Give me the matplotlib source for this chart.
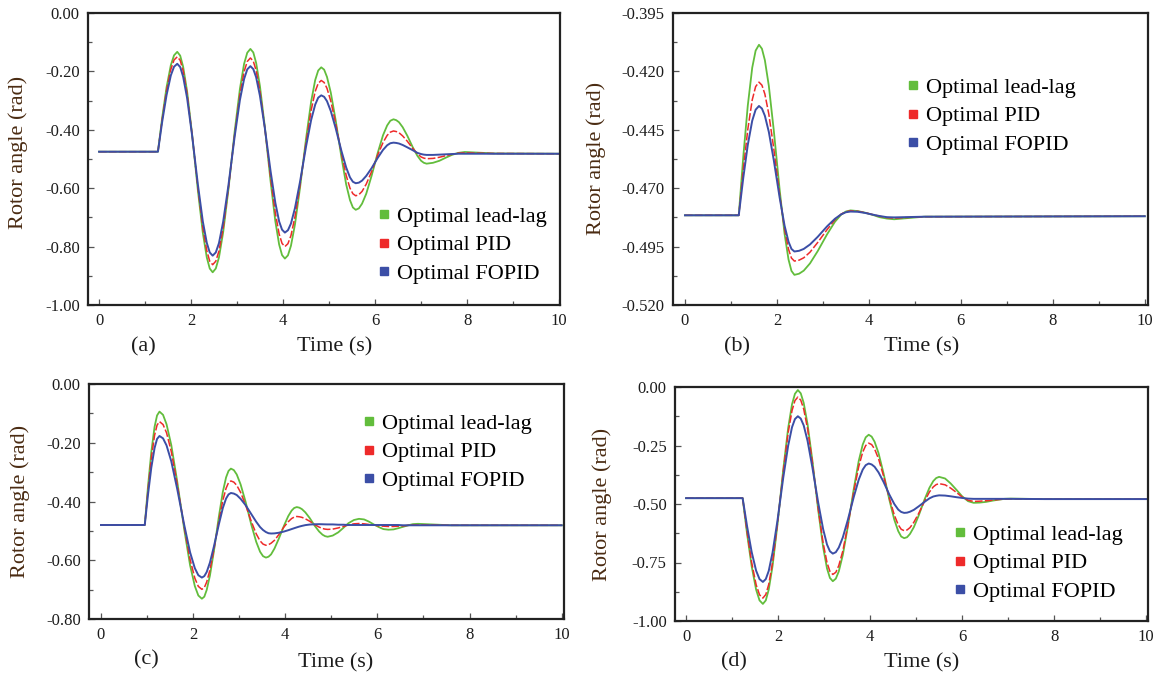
import matplotlib
matplotlib.use("Agg")
import matplotlib.pyplot as plt
from matplotlib.lines import Line2D

plt.rcParams['font.family'] = ['Liberation Serif', 'DejaVu Serif']
plt.rcParams['axes.unicode_minus'] = False

W, H = 1157, 679

labels = ["Optimal lead-lag", "Optimal PID", "Optimal FOPID"]
colors = ["#62bd3c", "#ee2a2a", "#3b4ea6"]
xticks = [0, 2, 4, 6, 8, 10]
xminor = [1, 3, 5, 7, 9]

# ---- panel (a)
time_a = [0, 1.28, 1.373, 1.467, 1.56, 1.63, 1.70,
          1.764, 1.828, 1.914, 2.021, 2.149, 2.256, 2.342, 2.406, 2.47,
          2.538, 2.607, 2.698, 2.812, 2.948, 3.062, 3.153, 3.222, 3.29,
          3.353, 3.415, 3.498, 3.603, 3.728, 3.832, 3.915, 3.978, 4.04,
          4.106, 4.172, 4.259, 4.369, 4.501, 4.611, 4.698, 4.764, 4.83,
          4.893, 4.955, 5.038, 5.143, 5.268, 5.372, 5.455, 5.518, 5.58,
          5.648, 5.717, 5.808, 5.922, 6.058, 6.172, 6.263, 6.332, 6.40,
          6.46, 6.52, 6.60, 6.70, 6.82, 6.92, 7.00, 7.06, 7.12,
          7.26, 7.40, 7.53, 7.67, 7.81, 7.95,
          8.6, 10.0]
leadlag_a = [-0.475, -0.475, -0.358, -0.255, -0.179, -0.145, -0.133,
             -0.146, -0.184, -0.268, -0.413, -0.608, -0.753, -0.837, -0.875, -0.888,
             -0.875, -0.837, -0.751, -0.605, -0.406, -0.260, -0.174, -0.136, -0.123,
             -0.135, -0.171, -0.251, -0.389, -0.575, -0.713, -0.793, -0.829, -0.841,
             -0.830, -0.797, -0.724, -0.598, -0.429, -0.303, -0.230, -0.197, -0.186,
             -0.194, -0.219, -0.273, -0.367, -0.493, -0.587, -0.641, -0.666, -0.674,
             -0.669, -0.653, -0.619, -0.559, -0.479, -0.419, -0.385, -0.369, -0.364,
             -0.367, -0.374, -0.391, -0.420, -0.460, -0.489, -0.506, -0.513, -0.516,
             -0.513, -0.506, -0.496, -0.486, -0.479, -0.476,
             -0.481, -0.482]
pid_a = [-0.475, -0.475, -0.364, -0.266, -0.1935, -0.161, -0.150,
         -0.162, -0.198, -0.277, -0.414, -0.598, -0.735, -0.814, -0.850, -0.862,
         -0.850, -0.815, -0.736, -0.600, -0.416, -0.280, -0.201, -0.166, -0.154,
         -0.165, -0.197, -0.269, -0.393, -0.561, -0.685, -0.757, -0.789, -0.800,
         -0.790, -0.762, -0.698, -0.589, -0.442, -0.333, -0.269, -0.241, -0.231,
         -0.238, -0.258, -0.302, -0.377, -0.480, -0.556, -0.600, -0.619, -0.626,
         -0.622, -0.611, -0.586, -0.544, -0.486, -0.444, -0.419, -0.408, -0.404,
         -0.406, -0.410, -0.421, -0.439, -0.464, -0.482, -0.493, -0.497, -0.499,
         -0.498, -0.494, -0.489, -0.484, -0.480, -0.479,
         -0.481, -0.482]
fopid_a = [-0.475, -0.475, -0.372, -0.2815, -0.214, -0.184, -0.174,
           -0.185, -0.218, -0.291, -0.417, -0.588, -0.714, -0.787, -0.820, -0.831,
           -0.820, -0.788, -0.715, -0.591, -0.423, -0.298, -0.226, -0.193, -0.182,
           -0.192, -0.220, -0.284, -0.393, -0.541, -0.650, -0.714, -0.742, -0.752,
           -0.744, -0.721, -0.668, -0.578, -0.456, -0.366, -0.314, -0.290, -0.282,
           -0.287, -0.302, -0.336, -0.394, -0.472, -0.529, -0.563, -0.578, -0.583,
           -0.581, -0.574, -0.558, -0.532, -0.496, -0.469, -0.453, -0.446, -0.444,
           -0.445, -0.447, -0.452, -0.460, -0.470, -0.479, -0.483, -0.485, -0.486,
           -0.486, -0.485, -0.484, -0.483, -0.482, -0.482,
           -0.482, -0.482]
yticks_a = [-1.0, -0.8, -0.6, -0.4, -0.2, 0.0]
ylabels_a = ["-1.00", "-0.80", "-0.60", "-0.40", "-0.20", "0.00"]
yminor_a = [-0.9, -0.7, -0.5, -0.3, -0.1]

# ---- panel (b)
time_b = [0, 1.17, 1.268, 1.366, 1.463, 1.537, 1.61,
          1.674, 1.738, 1.824, 1.931, 2.059, 2.166, 2.252, 2.316, 2.38,
          2.482, 2.583, 2.719, 2.888, 3.092, 3.261, 3.397, 3.498, 3.60,
          3.76, 3.92, 4.08, 4.23, 4.39, 4.55,
          5.2, 10.0]
leadlag_b = [-0.4816, -0.4816, -0.4566, -0.4347, -0.4184, -0.4111, -0.4086,
             -0.4103, -0.4152, -0.4262, -0.4451, -0.4706, -0.4895, -0.5005, -0.5054, -0.5071,
             -0.5066, -0.5053, -0.5022, -0.4969, -0.4897, -0.4844, -0.4813, -0.4800, -0.4795,
             -0.4798, -0.4805, -0.4814, -0.4824, -0.4830, -0.4833,
             -0.4822, -0.4820]
pid_b = [-0.4816, -0.4816, -0.4621, -0.4449, -0.4322, -0.4265, -0.4246,
         -0.4259, -0.4297, -0.4383, -0.4530, -0.4728, -0.4875, -0.4961, -0.4999, -0.5012,
         -0.5008, -0.4998, -0.4974, -0.4932, -0.4877, -0.4835, -0.4811, -0.4801, -0.4797,
         -0.4799, -0.4805, -0.4813, -0.4820, -0.4826, -0.4828,
         -0.4822, -0.4820]
fopid_b = [-0.4816, -0.4816, -0.4656, -0.4515, -0.4411, -0.4364, -0.4348,
           -0.4359, -0.4390, -0.4459, -0.4579, -0.4740, -0.4860, -0.4929, -0.4960, -0.4971,
           -0.4968, -0.4960, -0.4941, -0.4908, -0.4863, -0.4831, -0.4812, -0.4803, -0.4800,
           -0.4801, -0.4806, -0.4813, -0.4819, -0.4824, -0.4825,
           -0.4822, -0.4820]
yticks_b = [-0.520, -0.495, -0.470, -0.445, -0.420, -0.395]
ylabels_b = ["-0.520", "-0.495", "-0.470", "-0.445", "-0.420", "-0.395"]
yminor_b = [-0.5075, -0.4825, -0.4575, -0.4325, -0.4075]

# ---- panel (c)
time_c = [0, 0.95, 1.021, 1.092, 1.163, 1.217, 1.27,
          1.347, 1.423, 1.526, 1.653, 1.807, 1.934, 2.037, 2.113, 2.19,
          2.243, 2.295, 2.365, 2.453, 2.558, 2.645, 2.715, 2.768, 2.82,
          2.883, 2.947, 3.031, 3.137, 3.263, 3.369, 3.453, 3.517, 3.58,
          3.636, 3.692, 3.766, 3.859, 3.971, 4.064, 4.138, 4.194, 4.25,
          4.306, 4.362, 4.436, 4.529, 4.641, 4.734, 4.808, 4.864, 4.92,
          5.03, 5.15, 5.26, 5.37, 5.49, 5.60,
          5.71, 5.81, 5.92, 6.03, 6.13, 6.24,
          6.35, 6.45, 6.56, 6.67, 6.77, 6.88,
          7.6, 10.0]
leadlag_c = [-0.480, -0.480, -0.348, -0.232, -0.146, -0.107, -0.094,
             -0.105, -0.137, -0.208, -0.330, -0.495, -0.617, -0.688, -0.720, -0.731,
             -0.724, -0.701, -0.652, -0.567, -0.452, -0.367, -0.318, -0.296, -0.288,
             -0.293, -0.308, -0.342, -0.400, -0.479, -0.537, -0.571, -0.586, -0.591,
             -0.588, -0.580, -0.560, -0.527, -0.483, -0.450, -0.431, -0.422, -0.419,
             -0.421, -0.426, -0.437, -0.456, -0.483, -0.502, -0.513, -0.518, -0.520,
             -0.516, -0.505, -0.490, -0.474, -0.463, -0.459,
             -0.461, -0.468, -0.478, -0.487, -0.494, -0.496,
             -0.495, -0.491, -0.486, -0.481, -0.477, -0.476,
             -0.481, -0.481]
pid_c = [-0.480, -0.480, -0.360, -0.254, -0.175, -0.140, -0.128,
         -0.138, -0.166, -0.230, -0.340, -0.487, -0.597, -0.661, -0.689, -0.699,
         -0.693, -0.674, -0.633, -0.562, -0.467, -0.396, -0.355, -0.336, -0.330,
         -0.334, -0.345, -0.369, -0.411, -0.468, -0.510, -0.534, -0.545, -0.549,
         -0.547, -0.542, -0.532, -0.513, -0.487, -0.469, -0.458, -0.453, -0.451,
         -0.452, -0.454, -0.459, -0.467, -0.479, -0.487, -0.492, -0.494, -0.495,
         -0.494, -0.490, -0.485, -0.480, -0.476, -0.475,
         -0.476, -0.478, -0.480, -0.483, -0.484, -0.485,
         -0.485, -0.484, -0.483, -0.481, -0.480, -0.480,
         -0.481, -0.481]
fopid_c = [-0.480, -0.480, -0.376, -0.285, -0.218, -0.187, -0.177,
           -0.185, -0.209, -0.263, -0.356, -0.480, -0.573, -0.627, -0.651, -0.659,
           -0.654, -0.640, -0.608, -0.552, -0.478, -0.422, -0.390, -0.376, -0.371,
           -0.373, -0.378, -0.391, -0.412, -0.443, -0.469, -0.487, -0.497, -0.504,
           -0.508, -0.509, -0.5085, -0.5064, -0.5023, -0.4978, -0.4939, -0.4909, -0.4880,
           -0.4853, -0.4830, -0.4804, -0.4785, -0.4775, -0.4772, -0.4775, -0.4778, -0.478,
           -0.478, -0.479, -0.479, -0.480, -0.480, -0.480,
           -0.480, -0.480, -0.480, -0.480, -0.480, -0.480,
           -0.480, -0.480, -0.481, -0.481, -0.481, -0.481,
           -0.481, -0.481]
yticks_c = [-0.8, -0.6, -0.4, -0.2, 0.0]
ylabels_c = ["-0.80", "-0.60", "-0.40", "-0.20", "0.00"]
yminor_c = [-0.7, -0.5, -0.3, -0.1]

# ---- panel (d)
time_d = [0, 1.23, 1.328, 1.426, 1.523, 1.597, 1.67,
          1.733, 1.797, 1.881, 1.987, 2.113, 2.219, 2.303, 2.367, 2.43,
          2.493, 2.557, 2.641, 2.747, 2.873, 2.979, 3.063, 3.127, 3.19,
          3.255, 3.32, 3.407, 3.515, 3.645, 3.753, 3.84, 3.905, 3.97,
          4.034, 4.098, 4.184, 4.291, 4.419, 4.526, 4.612, 4.676, 4.74,
          4.803, 4.867, 4.951, 5.057, 5.183, 5.289, 5.373, 5.437, 5.50,
          5.63, 5.75, 5.88, 6.00, 6.13, 6.25,
          6.38, 6.52, 6.65, 6.78, 6.92, 7.05,
          7.8, 10.0]
leadlag_d = [-0.475, -0.475, -0.630, -0.766, -0.866, -0.912, -0.927,
             -0.912, -0.866, -0.764, -0.588, -0.352, -0.176, -0.074, -0.029, -0.013,
             -0.027, -0.068, -0.159, -0.316, -0.527, -0.684, -0.775, -0.816, -0.830,
             -0.819, -0.788, -0.718, -0.598, -0.436, -0.316, -0.246, -0.215, -0.204,
             -0.212, -0.234, -0.283, -0.368, -0.482, -0.567, -0.616, -0.639, -0.646,
             -0.642, -0.628, -0.599, -0.549, -0.481, -0.431, -0.402, -0.389, -0.384,
             -0.391, -0.412, -0.440, -0.467, -0.488, -0.495,
             -0.494, -0.491, -0.486, -0.482, -0.478, -0.477,
             -0.479, -0.479]
pid_d = [-0.475, -0.475, -0.621, -0.750, -0.845, -0.888, -0.902,
         -0.887, -0.844, -0.749, -0.584, -0.361, -0.196, -0.101, -0.058, -0.043,
         -0.056, -0.094, -0.178, -0.324, -0.520, -0.666, -0.750, -0.788, -0.801,
         -0.792, -0.763, -0.701, -0.593, -0.448, -0.340, -0.278, -0.250, -0.240,
         -0.246, -0.265, -0.307, -0.379, -0.475, -0.547, -0.589, -0.608, -0.614,
         -0.611, -0.601, -0.578, -0.540, -0.488, -0.449, -0.427, -0.417, -0.413,
         -0.418, -0.432, -0.451, -0.470, -0.484, -0.489,
         -0.488, -0.486, -0.484, -0.481, -0.479, -0.478,
         -0.479, -0.479]
fopid_d = [-0.475, -0.475, -0.597, -0.705, -0.785, -0.821, -0.833,
           -0.821, -0.786, -0.707, -0.571, -0.387, -0.251, -0.172, -0.137, -0.125,
           -0.135, -0.164, -0.230, -0.345, -0.495, -0.607, -0.673, -0.702, -0.712,
           -0.706, -0.686, -0.643, -0.569, -0.470, -0.396, -0.353, -0.334, -0.327,
           -0.331, -0.341, -0.365, -0.405, -0.460, -0.500, -0.524, -0.534, -0.538,
           -0.537, -0.533, -0.525, -0.510, -0.491, -0.476, -0.468, -0.465, -0.463,
           -0.464, -0.467, -0.471, -0.474, -0.477, -0.478,
           -0.478, -0.478, -0.478, -0.478, -0.478, -0.478,
           -0.479, -0.479]
yticks_d = [-1.0, -0.75, -0.5, -0.25, 0.0]
ylabels_d = ["-1.00", "-0.75", "-0.50", "-0.25", "0.00"]
yminor_d = [-0.875, -0.625, -0.375, -0.125]

panels = [
    dict(t=time_a, ys=[leadlag_a, pid_a, fopid_a], yt=yticks_a, yl=ylabels_a, ym=yminor_a,
         box=(88, 13, 560, 305), xlim=(-0.24, 10.02), leg=(378, 245),
         tag="(a)", tagpos=(143, 347), tpos=(335, 347), ylpos=(18, 152)),
    dict(t=time_b, ys=[leadlag_b, pid_b, fopid_b], yt=yticks_b, yl=ylabels_b, ym=yminor_b,
         box=(673, 13, 1148, 305), xlim=(-0.26, 10.07), leg=(907, 116),
         tag="(b)", tagpos=(737, 347), tpos=(922, 347), ylpos=(596, 158)),
    dict(t=time_c, ys=[leadlag_c, pid_c, fopid_c], yt=yticks_c, yl=ylabels_c, ym=yminor_c,
         box=(89, 384, 564, 619), xlim=(-0.26, 10.05), leg=(363, 452),
         tag="(c)", tagpos=(146, 660), tpos=(336, 663), ylpos=(20, 501)),
    dict(t=time_d, ys=[leadlag_d, pid_d, fopid_d], yt=yticks_d, yl=ylabels_d, ym=yminor_d,
         box=(675, 387, 1148, 621), xlim=(-0.24, 10.04), leg=(954, 563),
         tag="(d)", tagpos=(734, 662), tpos=(922, 663), ylpos=(602, 504)),
]

fig = plt.figure(figsize=(W / 100, H / 100), dpi=100)
text_col = "#1c1c1c"
label_col = "#4a2b12"

for p in panels:
    x0, y0, x1, y1 = p["box"]
    ax = fig.add_axes([x0 / W, 1 - y1 / H, (x1 - x0) / W, (y1 - y0) / H])
    styles = [dict(ls="-", lw=1.3), dict(ls=(0, (5, 1.5)), lw=1.1), dict(ls="-", lw=1.4)]
    for ys, c, st in zip(p["ys"], colors, styles):
        ax.plot(p["t"], ys, color=c, solid_joinstyle="round", **st)
    ax.set_xlim(*p["xlim"])
    ax.set_ylim(p["yt"][0], p["yt"][-1])
    ax.set_xticks(xticks)
    ax.set_xticks(xminor, minor=True)
    ax.set_yticks(p["yt"])
    ax.set_yticklabels(p["yl"])
    ax.set_yticks(p["ym"], minor=True)
    ax.tick_params(which="both", direction="in", top=False, right=False,
                   width=0.9, colors="#555555", labelcolor=text_col, labelsize=12)
    ax.tick_params(which="major", length=4, pad=6)
    ax.tick_params(which="minor", length=3)
    for s in ax.spines.values():
        s.set_linewidth(1.6)
        s.set_color("#222222")

    handles = [Line2D([], [], ls="", marker="s", markersize=6, color=c) for c in colors]
    lx, ly = p["leg"]
    ax.legend(handles, labels, loc="center left", bbox_to_anchor=(lx / W, 1 - ly / H),
              bbox_transform=fig.transFigure, frameon=False, fontsize=16,
              handlelength=0.5, handletextpad=0.35, labelspacing=0.35,
              borderpad=0, borderaxespad=0)

    fig.text(p["tagpos"][0] / W, 1 - p["tagpos"][1] / H, p["tag"], fontsize=16,
             ha="center", va="center", color=text_col)
    fig.text(p["tpos"][0] / W, 1 - p["tpos"][1] / H, "Time (s)", fontsize=16,
             ha="center", va="center", color=text_col)
    fig.text(p["ylpos"][0] / W, 1 - p["ylpos"][1] / H, "Rotor angle (rad)", fontsize=16,
             rotation=90, ha="center", va="center", color=label_col)

fig.savefig("out.png", dpi=100)
